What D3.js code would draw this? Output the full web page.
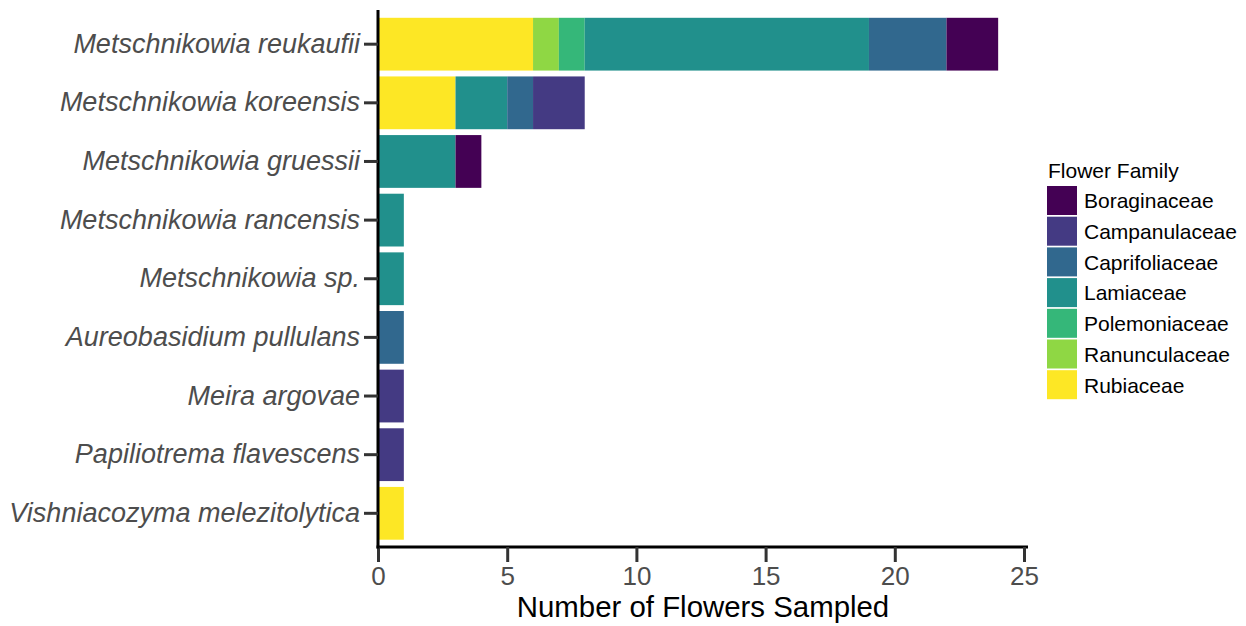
<!DOCTYPE html>
<html>
<head>
<meta charset="utf-8">
<script src="https://cdn.jsdelivr.net/npm/d3@7"></script>
<style>
  body { margin: 0; background: #fff; }
  svg { font-family: "Liberation Sans", Arial, sans-serif; }
</style>
</head>
<body>
<svg id="chart" width="1246" height="626"></svg>
<script>
// yeast species, top to bottom
var species = [
  'Metschnikowia reukaufii',
  'Metschnikowia koreensis',
  'Metschnikowia gruessii',
  'Metschnikowia rancensis',
  'Metschnikowia sp.',
  'Aureobasidium pullulans',
  'Meira argovae',
  'Papiliotrema flavescens',
  'Vishniacozyma melezitolytica'
];

// legend order
var families = ['Boraginaceae', 'Campanulaceae', 'Caprifoliaceae', 'Lamiaceae',
                'Polemoniaceae', 'Ranunculaceae', 'Rubiaceae'];
var familyColors = ['#440154', '#443A83', '#31688E', '#21908C',
                    '#35B779', '#8FD744', '#FDE725'];

// counts per family, one entry per species (same order as species)
var boraginaceae   = [2, 0, 1, 0, 0, 0, 0, 0, 0];
var campanulaceae  = [0, 2, 0, 0, 0, 0, 1, 1, 0];
var caprifoliaceae = [3, 1, 0, 0, 0, 1, 0, 0, 0];
var lamiaceae      = [11, 2, 3, 1, 1, 0, 0, 0, 0];
var polemoniaceae  = [1, 0, 0, 0, 0, 0, 0, 0, 0];
var ranunculaceae  = [1, 0, 0, 0, 0, 0, 0, 0, 0];
var rubiaceae      = [6, 3, 0, 0, 0, 0, 0, 0, 1];

var xTicks = [0, 5, 10, 15, 20, 25];

var seriesByFamily = {
  'Boraginaceae': boraginaceae,
  'Campanulaceae': campanulaceae,
  'Caprifoliaceae': caprifoliaceae,
  'Lamiaceae': lamiaceae,
  'Polemoniaceae': polemoniaceae,
  'Ranunculaceae': ranunculaceae,
  'Rubiaceae': rubiaceae
};

var rows = species.map(function(s, i) {
  var r = { species: s };
  families.forEach(function(f) { r[f] = seriesByFamily[f][i]; });
  return r;
});

var svg = d3.select('#chart'),
    plotLeft = 378, plotRight = 1024, plotTop = 10, plotBottom = 547;

var x = d3.scaleLinear().domain([0, 25]).range([plotLeft, plotRight]);
var y = d3.scaleBand().domain(species).range([plotTop - 1, plotBottom + 1.5])
    .paddingInner(0.1).paddingOuter(0.15);
var color = d3.scaleOrdinal().domain(families).range(familyColors);

// Rubiaceae sits against the axis, Boraginaceae at the far end
var stack = d3.stack().keys(families.slice().reverse());
var layers = stack(rows);

svg.append('g')
  .selectAll('g')
  .data(layers)
  .enter().append('g')
    .attr('fill', function(d) { return color(d.key); })
  .selectAll('rect')
  .data(function(d) { return d; })
  .enter().append('rect')
    .attr('x', function(d) { return x(d[0]); })
    .attr('width', function(d) { return x(d[1]) - x(d[0]); })
    .attr('y', function(d) { return y(d.data.species); })
    .attr('height', y.bandwidth());

// x axis
var xAxis = svg.append('g')
  .attr('transform', 'translate(0,' + plotBottom + ')')
  .call(d3.axisBottom(x).tickValues(xTicks).tickSize(15).tickPadding(5).tickSizeOuter(0));
xAxis.select('.domain').attr('stroke', '#000').attr('stroke-width', 3)
  .attr('d', 'M' + (plotLeft - 1.5) + ',0H' + (plotRight + 4));
xAxis.selectAll('.tick line').attr('stroke', '#333').attr('stroke-width', 3);
xAxis.selectAll('.tick text')
  .attr('fill', '#4D4D4D')
  .style('font-size', '26px');

// y axis
var yAxis = svg.append('g')
  .attr('transform', 'translate(' + plotLeft + ',0)')
  .call(d3.axisLeft(y).tickSize(14).tickPadding(4).tickSizeOuter(0));
yAxis.select('.domain').attr('stroke', '#000').attr('stroke-width', 3)
  .attr('d', 'M0,' + plotTop + 'V' + (plotBottom + 1.5));
yAxis.selectAll('.tick line').attr('stroke', '#333').attr('stroke-width', 3);
yAxis.selectAll('.tick text')
  .attr('fill', '#4D4D4D')
  .style('font-size', '27px')
  .style('font-style', 'italic');

svg.append('text')
  .attr('x', (plotLeft + plotRight) / 2 + 2)
  .attr('y', 617)
  .attr('text-anchor', 'middle')
  .style('font-size', '29.4px')
  .attr('fill', '#000')
  .text('Number of Flowers Sampled');

// legend
var legend = svg.append('g').attr('transform', 'translate(1047,0)');
legend.append('text')
  .attr('x', 1)
  .attr('y', 178)
  .style('font-size', '21px')
  .text('Flower Family');

var item = legend.selectAll('.item')
  .data(families)
  .enter().append('g')
    .attr('class', 'item')
    .attr('transform', function(d, i) { return 'translate(0,' + (186 + i * 30.7) + ')'; });

item.append('rect')
  .attr('width', 30)
  .attr('height', 29)
  .attr('fill', function(d) { return color(d); });

item.append('text')
  .attr('x', 37)
  .attr('y', 15)
  .attr('dy', '0.35em')
  .style('font-size', '21px')
  .text(function(d) { return d; });
</script>
</body>
</html>
